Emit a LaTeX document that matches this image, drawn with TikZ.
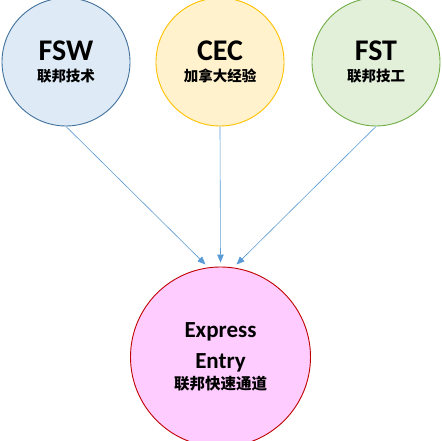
\documentclass[tikz,border=0pt]{standalone}
\usepackage{fontspec}
\setmainfont{Carlito}
\newfontfamily\cjk{Noto Sans CJK SC}
\usepackage{xcolor}
\usetikzlibrary{arrows.meta,positioning,calc}
\definecolor{fswfill}{HTML}{DEEBF7}
\definecolor{fswline}{HTML}{41719C}
\definecolor{cecfill}{HTML}{FFF2CC}
\definecolor{cecline}{HTML}{FFC000}
\definecolor{fstfill}{HTML}{E2F0D9}
\definecolor{fstline}{HTML}{70AD47}
\definecolor{eefill}{HTML}{FFCCFF}
\definecolor{eeline}{HTML}{C00000}
\definecolor{flowblue}{HTML}{5B9BD5}
\tikzset{
  progcircle/.style={circle,line width=0.9pt,minimum size=128pt,inner sep=0pt,align=center,font=\fontsize{14.5}{20.5}\selectfont},
  entrycircle/.style={circle,draw=eeline,fill=eefill,line width=0.9pt,minimum size=180pt,inner sep=0pt,align=center,font=\fontsize{15.5}{21}\selectfont},
  progflow/.style={-{Triangle[length=8pt,width=6.5pt]},line width=0.6pt,draw=flowblue}
}

\begin{document}
\begin{tikzpicture}[x=1pt,y=1pt]
  \useasboundingbox (0,0) rectangle (442,441);
  \node[progcircle,draw=fswline,fill=fswfill] (fsw) at (66,379) {{\fontsize{30}{20}\selectfont\bfseries FSW}\\{\cjk\bfseries 联邦技术}};
  \node[progcircle,draw=cecline,fill=cecfill] (cec) at (220,379) {{\fontsize{30}{20}\selectfont\bfseries CEC}\\{\cjk\bfseries 加拿大经验}};
  \node[progcircle,draw=fstline,fill=fstfill] (fst) at (376,379) {{\fontsize{30}{20}\selectfont\bfseries FST}\\{\cjk\bfseries 联邦技工}};
  \node[entrycircle] (ee) at (220.5,84) {{\fontsize{23}{21}\selectfont\bfseries Express}\\[10pt]{\fontsize{23}{21}\selectfont\bfseries Entry}\\{\cjk\bfseries 联邦快速通道}};
  \coordinate (tipfsw) at ($(ee.north)+(-15,2)$);
  \coordinate (tipcec) at ($(ee.north)+(0,4)$);
  \coordinate (tipfst) at ($(ee.north)+(16,2)$);
  \draw[progflow] (fsw.south) -- (tipfsw);
  \draw[progflow] (cec.south) -- (tipcec);
  \draw[progflow] (fst.south) -- (tipfst);
\end{tikzpicture}
\end{document}
